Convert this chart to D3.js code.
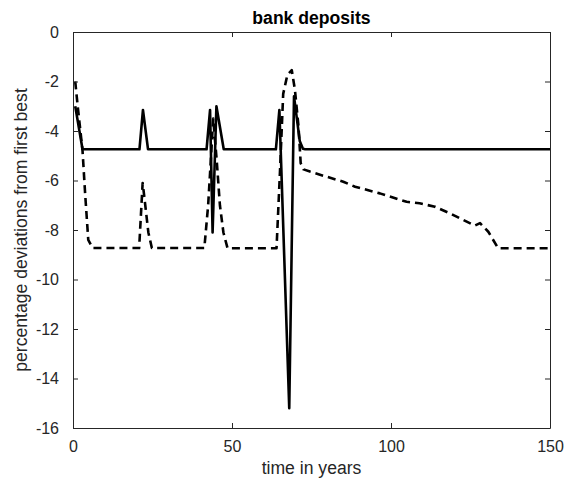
<!DOCTYPE html>
<html>
<head>
<meta charset="utf-8">
<script src="https://cdn.jsdelivr.net/npm/d3@7/dist/d3.min.js"></script>
<style>
  html, body { margin: 0; padding: 0; background: #fff; }
  svg { display: block; }
  text { font-family: "Liberation Sans", Arial, Helvetica, sans-serif; }
</style>
</head>
<body>
<div id="chart"></div>
<script>
// ---- data ----
const titleText = "bank deposits";
const xLabelText = "time in years";
const yLabelText = "percentage deviations from first best";
const xTicks = [0, 50, 100, 150];
const yTicks = [0, -2, -4, -6, -8, -10, -12, -14, -16];

const solidT = [0.7, 3.0, 20.9, 22.0, 23.6, 42.0, 43.1, 43.9, 45.1, 47.4, 63.8, 64.9, 68.0, 69.5, 71.3, 72.3, 73.0, 150];
const solidV = [-3.0, -4.74, -4.74, -3.15, -4.74, -4.74, -3.15, -8.1, -3.0, -4.74, -4.74, -3.15, -15.2, -2.6, -4.4, -4.72, -4.74, -4.74];

const dashT = [0.7, 1.4, 3.0, 3.8, 4.8, 6.2, 20.8, 21.9, 22.1, 23.7, 24.8, 41.3, 42.5, 43.1, 44.1, 45.2, 46.2, 47.3, 48.6, 64.0, 65.1, 66.1, 67.4, 68.8, 69.8, 70.9, 71.6, 72.5, 74.5, 79.8, 85.0, 88.7, 96.5, 104.9, 109.0, 113.8, 118.6, 123.8, 126.4, 128.0, 130.6, 133.7, 150];
const dashV = [-2.0, -2.9, -4.8, -6.5, -8.4, -8.73, -8.73, -6.1, -6.3, -8.1, -8.73, -8.73, -7.0, -5.7, -3.5, -5.2, -7.0, -8.1, -8.74, -8.74, -5.6, -2.5, -1.74, -1.54, -2.35, -3.8, -5.3, -5.55, -5.64, -5.85, -6.05, -6.25, -6.52, -6.86, -6.92, -7.06, -7.33, -7.66, -7.82, -7.72, -8.07, -8.74, -8.74];

// ---- layout ----
const W = 574, H = 480;
const L = 73, R = 550, T = 32, B = 428;
const axisColor = "#262626";

const svg = d3.select("#chart").append("svg").attr("width", W).attr("height", H);

const x = d3.scaleLinear().domain([0, 150]).range([L, R]);
const y = d3.scaleLinear().domain([-16, 0]).range([B, T]);

// lines
const line = d3.line().x(d => x(d[0])).y(d => y(d[1]));
const solid = solidT.map((t, i) => [t, solidV[i]]);
const dashed = dashT.map((t, i) => [t, dashV[i]]);

svg.append("clipPath").attr("id", "clip")
  .append("rect").attr("x", L).attr("y", T).attr("width", R - L).attr("height", B - T);

const g = svg.append("g").attr("clip-path", "url(#clip)");
g.append("path").datum(solid).attr("d", line)
  .attr("fill", "none").attr("stroke", "#000").attr("stroke-width", 2.6)
  .attr("stroke-linejoin", "round");
g.append("path").datum(dashed).attr("d", line)
  .attr("fill", "none").attr("stroke", "#000").attr("stroke-width", 2.6)
  .attr("stroke-dasharray", "8,5").attr("stroke-linejoin", "round");

// axes (MATLAB-like, ticks inside, box on)
const tickLen = 5;
const axBottom = d3.axisBottom(x).tickValues(xTicks).tickSizeInner(-tickLen).tickSizeOuter(0).tickPadding(13).tickFormat(d3.format("d"));
const axTop = d3.axisTop(x).tickValues(xTicks).tickSizeInner(-tickLen).tickSizeOuter(0).tickFormat("");
const axLeft = d3.axisLeft(y).tickValues(yTicks).tickSizeInner(-tickLen).tickSizeOuter(0).tickPadding(14).tickFormat(d => d === 0 ? "0" : "-" + Math.abs(d));
const axRight = d3.axisRight(y).tickValues(yTicks).tickSizeInner(-tickLen).tickSizeOuter(0).tickFormat("");

function style(sel) {
  sel.select(".domain").attr("stroke", axisColor).attr("stroke-width", 1);
  sel.selectAll(".tick line").attr("stroke", axisColor).attr("stroke-width", 1);
  sel.selectAll(".tick text").attr("fill", axisColor)
    .style("font-family", "'Liberation Sans', Arial, sans-serif").style("font-size", "16px");
}
svg.append("g").attr("transform", `translate(0,${B})`).call(axBottom).call(style);
svg.append("g").attr("transform", `translate(0,${T})`).call(axTop).call(style);
svg.append("g").attr("transform", `translate(${L},0)`).call(axLeft).call(style);
svg.append("g").attr("transform", `translate(${R},0)`).call(axRight).call(style);

// title & labels
svg.append("text").attr("x", (L + R) / 2).attr("y", 24)
  .attr("text-anchor", "middle").attr("font-weight", "bold")
  .style("font-size", "17.6px").attr("fill", "#000").text(titleText);
svg.append("text").attr("x", (L + R) / 2).attr("y", 474)
  .attr("text-anchor", "middle").style("font-size", "17.6px").attr("fill", axisColor).text(xLabelText);
svg.append("text").attr("transform", `translate(27,${(T + B) / 2}) rotate(-90)`)
  .attr("text-anchor", "middle").style("font-size", "17.6px").attr("fill", axisColor).text(yLabelText);
</script>
</body>
</html>
